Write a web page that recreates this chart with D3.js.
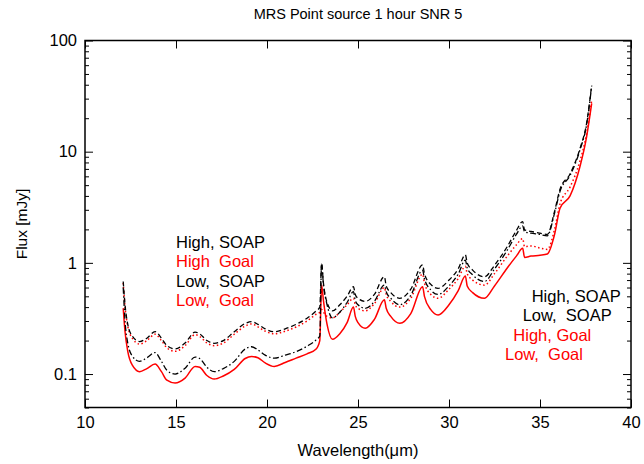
<!DOCTYPE html>
<html>
<head>
<meta charset="utf-8">
<script src="https://cdn.jsdelivr.net/npm/d3@7"></script>
<style>
body { margin: 0; background: #fff; }
text { font-family: "Liberation Sans", Arial, Helvetica, sans-serif; }
</style>
</head>
<body>
<div id="chart-area"></div>
<script>
// wavelength grid (micron) shared by the four curves
var wavelength = [12.1, 12.2, 12.35, 12.6, 13.0, 13.4, 13.85, 14.2, 14.5, 14.95,
    15.5, 16.05, 16.3, 16.7, 17.1, 17.6, 18.2, 18.8, 19.15, 19.5,
    19.9, 20.4, 21.0, 21.6, 22.2, 22.7, 22.9, 23.0, 23.1, 23.3,
    23.6, 24.0, 24.4, 24.75, 24.85, 25.0, 25.4, 25.9, 26.45, 26.55,
    26.8, 27.3, 27.9, 28.55, 28.65, 29.0, 29.4, 30.0, 30.5, 30.9,
    31.0, 31.3, 31.95, 32.5, 33.2, 33.7, 34.05, 34.15, 34.5, 35.0,
    35.4, 35.8, 36.1, 36.65, 37.2, 37.56, 37.84];

var highSoap = [0.68, 0.42, 0.28, 0.22, 0.196, 0.21, 0.241, 0.21, 0.18, 0.168,
    0.19, 0.238, 0.23, 0.20, 0.189, 0.20, 0.24, 0.285, 0.296, 0.28,
    0.255, 0.24, 0.255, 0.28, 0.318, 0.37, 0.40, 0.99, 0.66, 0.44,
    0.37, 0.42, 0.50, 0.61, 0.52, 0.48, 0.45, 0.52, 0.75, 0.62,
    0.54, 0.48, 0.58, 0.96, 0.80, 0.64, 0.59, 0.70, 0.88, 1.18,
    1.0, 0.86, 0.75, 0.95, 1.40, 1.95, 2.35, 1.98, 1.92, 1.85,
    1.80, 2.9, 4.6, 6.3, 10.7, 18.0, 39.8];

var highGoal = [0.66, 0.40, 0.27, 0.21, 0.186, 0.20, 0.228, 0.20, 0.172, 0.16,
    0.18, 0.226, 0.218, 0.19, 0.18, 0.19, 0.228, 0.27, 0.282, 0.266,
    0.243, 0.23, 0.243, 0.265, 0.30, 0.345, 0.36, 0.38, 0.36, 0.33,
    0.32, 0.36, 0.42, 0.48, 0.42, 0.39, 0.37, 0.43, 0.60, 0.52,
    0.45, 0.40, 0.48, 0.79, 0.66, 0.52, 0.48, 0.58, 0.72, 0.93,
    0.80, 0.70, 0.63, 0.80, 1.15, 1.45, 1.65, 1.40, 1.42, 1.36,
    1.32, 2.0, 3.4, 4.8, 8.3, 14.5, 29];

var lowSoap = [0.6, 0.30, 0.19, 0.145, 0.13, 0.14, 0.156, 0.13, 0.108, 0.10,
    0.113, 0.142, 0.138, 0.115, 0.105, 0.112, 0.13, 0.168, 0.176, 0.165,
    0.148, 0.139, 0.148, 0.159, 0.178, 0.203, 0.22, 0.98, 0.64, 0.42,
    0.32, 0.36, 0.44, 0.55, 0.46, 0.42, 0.39, 0.45, 0.63, 0.55,
    0.48, 0.42, 0.51, 0.86, 0.72, 0.57, 0.52, 0.62, 0.79, 1.06,
    0.90, 0.78, 0.68, 0.88, 1.30, 1.80, 2.15, 1.90, 1.85, 1.80,
    1.75, 2.8, 4.4, 6.1, 10.4, 17.5, 39];

var lowGoal = [0.39, 0.24, 0.16, 0.12, 0.105, 0.112, 0.123, 0.105, 0.088, 0.083,
    0.092, 0.117, 0.115, 0.097, 0.090, 0.096, 0.11, 0.138, 0.144, 0.14,
    0.126, 0.117, 0.127, 0.139, 0.152, 0.168, 0.20, 0.633, 0.46, 0.28,
    0.205, 0.23, 0.29, 0.40, 0.33, 0.29, 0.258, 0.31, 0.465, 0.39,
    0.33, 0.286, 0.35, 0.61, 0.50, 0.38, 0.34, 0.42, 0.56, 0.76,
    0.62, 0.54, 0.48, 0.62, 0.90, 1.15, 1.35, 1.12, 1.15, 1.17,
    1.2, 1.8, 3.1, 4.0, 7.4, 13.6, 27.2];

var xTicks = [10, 15, 20, 25, 30, 35, 40];
var yTicks = [0.1, 1, 10, 100];

var leftLegend = ["High, SOAP", "High  Goal", "Low,  SOAP", "Low,  Goal"];
var leftLegendColor = ["black", "red", "black", "red"];
var rightLegend = ["High, SOAP", "Low,  SOAP", "High, Goal", "Low,  Goal"];
var rightLegendColor = ["black", "black", "red", "red"];

var margin = { left: 85, right: 13, top: 40.5, bottom: 56.5 };
var W = 644, H = 464;
var width = W - margin.left - margin.right,
    height = H - margin.top - margin.bottom;

var svg = d3.select("#chart-area")
    .append("svg")
        .attr("width", W)
        .attr("height", H);

var g = svg.append("g")
    .attr("transform", "translate(" + margin.left + ", " + margin.top + ")");

var x = d3.scaleLinear().domain([10, 40]).range([0, width]);
var y = d3.scaleLog().domain([0.05, 100]).range([height, 0]);

// minor log ticks (2..9 of each decade) inside the domain
var minorTicks = y.ticks().filter(function(d){
    return yTicks.indexOf(d) < 0;
});

function styleAxis(sel) {
    sel.select(".domain").remove();
    sel.selectAll("line").attr("stroke", "black").attr("stroke-width", 1);
    sel.selectAll("text")
        .attr("font-size", "16.5px")
        .attr("fill", "black")
        .style("font-family", "'Liberation Sans', Arial, sans-serif");
}

// left axis: majors with labels, minors without
g.append("g")
    .call(d3.axisLeft(y).tickValues(yTicks).tickSize(-8).tickPadding(8)
        .tickFormat(function(d){ return d; }))
    .call(styleAxis);
g.append("g")
    .call(d3.axisLeft(y).tickValues(minorTicks).tickSize(-4).tickFormat(""))
    .call(styleAxis);

// right axis
g.append("g")
    .attr("transform", "translate(" + width + ",0)")
    .call(d3.axisRight(y).tickValues(yTicks).tickSize(-8).tickFormat(""))
    .call(styleAxis);
g.append("g")
    .attr("transform", "translate(" + width + ",0)")
    .call(d3.axisRight(y).tickValues(minorTicks).tickSize(-4).tickFormat(""))
    .call(styleAxis);

// bottom and top axes
g.append("g")
    .attr("transform", "translate(0," + height + ")")
    .call(d3.axisBottom(x).tickValues(xTicks).tickSize(-8).tickPadding(9)
        .tickFormat(function(d){ return d; }))
    .call(styleAxis);
g.append("g")
    .call(d3.axisTop(x).tickValues(xTicks).tickSize(-8).tickFormat(""))
    .call(styleAxis);

// frame
g.append("rect")
    .attr("width", width)
    .attr("height", height)
    .attr("fill", "none")
    .attr("stroke", "black")
    .attr("stroke-width", 1.5);

var series = [
    { values: lowGoal,  color: "red",   dash: null,            w: 1.5 },
    { values: highGoal, color: "red",   dash: "1.5,2.5",       w: 1.5 },
    { values: lowSoap,  color: "black", dash: "6,2.5,1.5,2.5", w: 1.3 },
    { values: highSoap, color: "black", dash: "5,3",           w: 1.3 }
];

var line = d3.line()
    .x(function(d){ return x(d[0]); })
    .y(function(d){ return y(d[1]); })
    .curve(d3.curveMonotoneX);

g.selectAll("path.curve")
    .data(series)
    .enter()
    .append("path")
    .attr("class", "curve")
    .attr("fill", "none")
    .attr("stroke", function(d){ return d.color; })
    .attr("stroke-width", function(d){ return d.w; })
    .attr("stroke-dasharray", function(d){ return d.dash; })
    .attr("d", function(d){
        return line(wavelength.map(function(w, i){ return [w, d.values[i]]; }));
    });

// legend text blocks
svg.selectAll("text.legL")
    .data(leftLegend)
    .enter()
    .append("text")
    .attr("class", "legL")
    .attr("x", 176)
    .attr("y", function(d, i){ return 248 + i * 19.3; })
    .attr("font-size", "16.5px")
    .attr("fill", function(d, i){ return leftLegendColor[i]; })
    .style("white-space", "pre")
    .text(function(d){ return d; });

var rightX = [531.7, 522.7, 513.3, 505];
svg.selectAll("text.legR")
    .data(rightLegend)
    .enter()
    .append("text")
    .attr("class", "legR")
    .attr("x", function(d, i){ return rightX[i]; })
    .attr("y", function(d, i){ return 302 + i * 19.4; })
    .attr("font-size", "16.5px")
    .attr("fill", function(d, i){ return rightLegendColor[i]; })
    .style("white-space", "pre")
    .text(function(d){ return d; });

// title and axis labels
svg.append("text")
    .attr("x", margin.left + width / 2)
    .attr("y", 19)
    .attr("font-size", "14.5px")
    .attr("text-anchor", "middle")
    .text("MRS Point source 1 hour SNR 5");

svg.append("text")
    .attr("x", margin.left + width / 2)
    .attr("y", 456)
    .attr("font-size", "16.5px")
    .attr("text-anchor", "middle")
    .text("Wavelength(\u03bcm)");

svg.append("text")
    .attr("transform", "translate(27," + (margin.top + height / 2) + ") rotate(-90)")
    .attr("font-size", "15.5px")
    .attr("text-anchor", "middle")
    .text("Flux [mJy]");
</script>
</body>
</html>
